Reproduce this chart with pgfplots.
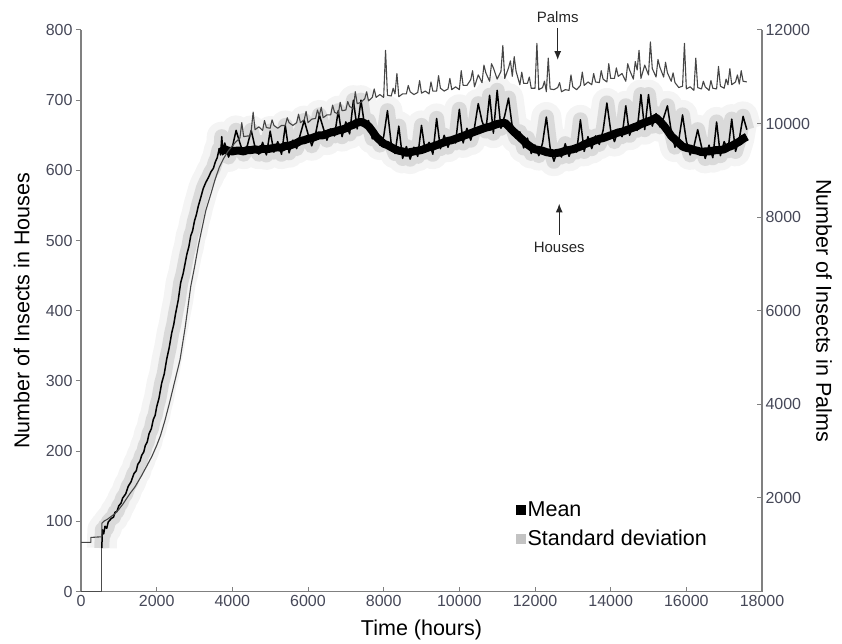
\documentclass[border=0pt]{standalone}
\usepackage{pgfplots}
\pgfplotsset{compat=1.18}
\usepackage{fontspec}
\setmainfont{Liberation Sans}
\usetikzlibrary{arrows.meta}
\definecolor{axgray}{RGB}{128,128,128}
\definecolor{ticktxt}{RGB}{70,72,88}
\definecolor{palmcol}{RGB}{70,70,70}
\definecolor{bandout}{RGB}{244,244,244}
\definecolor{bandin}{RGB}{218,218,218}
\definecolor{sdleg}{RGB}{195,195,195}
\pgfplotsset{
  base/.style={
    scale only axis, width=681pt, height=561.5pt,
    xmin=0, xmax=18000,
    axis line style={axgray, line width=1.3pt, -},
    tick style={axgray, line width=1pt},
    major tick length=5pt,
    tick label style={font=\fontsize{16}{18}\selectfont, text=ticktxt},
    /pgf/number format/assume math mode=true,
    /pgf/number format/1000 sep={},
    scaled ticks=false,
    clip=false,
  }
}
\begin{document}
\begin{tikzpicture}
\useasboundingbox (-81pt,-51.5pt) rectangle (761pt,591.5pt);
\begin{axis}[base,
  axis x line*=bottom, axis y line*=left,
  ymin=0, ymax=800,
  xtick={0,2000,...,18000}, ytick={0,100,...,800},
  xtick align=inside, ytick align=outside,
  xlabel={Time (hours)}, ylabel={Number of Insects in Houses},
  every axis x label/.style={at={(axis description cs:0.5,-0.069)}, anchor=center, font=\fontsize{21.5}{24}\selectfont},
  every axis y label/.style={at={(axis description cs:-0.087,0.5)}, rotate=90, anchor=center, font=\fontsize{21.5}{24}\selectfont},
  legend style={draw=none, fill=none, at={(0.635,0.168)}, anchor=north west,
    font=\fontsize{21.5}{24}\selectfont, row sep=8pt},
  legend cell align=left,
]
\addlegendimage{only marks, mark=square*, mark size=4.5pt, black}
\addlegendentry{Mean}
\addlegendimage{only marks, mark=square*, mark size=4.5pt, color=sdleg}
\addlegendentry{Standard deviation}

\pgfplotstableread{
x y
550 62
565 88
600 82
634 93
680 90
720 99
800 104
860 106
900 113
950 114
1000 122
1060 126
1100 133
1180 139
1250 150
1320 156
1400 168
1460 172
1500 181
1560 186
1604 194
1660 199
1700 208
1750 213
1800 225
1860 232
1911 245
1960 251
2000 263
2060 275
2133 297
2200 310
2265 331
2330 347
2400 369
2450 380
2500 396
2570 415
2635 440
2700 453
2800 481
2850 491
2902 507
2950 514
3000 528
3050 537
3100 549
3169 562
3230 574
3300 583
3370 590
3436 598
3500 603
3550 612
3600 618
3650 630
3690 622
3720 648
3750 627
3800 639
3900 619
4000 633
4100 657
4200 639
4300 623
4400 636
4500 657
4600 633
4700 623
4800 640
4900 622
5000 656
5100 626
5200 641
5300 623
5400 664
5500 625
5600 643
5700 631
5800 652
5900 671
6000 652
6100 635
6200 652
6300 679
6400 661
6500 643
6600 659
6700 649
6800 685
6900 648
7000 669
7100 652
7200 700
7300 659
7400 700
7500 662
7600 671
7700 645
7800 652
7900 636
8000 648
8100 685
8200 638
8300 624
8400 663
8500 617
8600 634
8700 616
8800 633
8900 620
9000 664
9100 626
9200 640
9300 623
9400 674
9500 631
9600 650
9700 633
9800 648
9900 639
10000 687
10100 639
10200 660
10300 643
10400 661
10500 695
10600 670
10700 656
10800 707
10900 653
11000 714
11100 660
11200 678
11300 703
11400 662
11500 646
11600 655
11700 632
11800 646
11900 624
12000 636
12100 621
12200 639
12300 676
12400 632
12500 613
12600 629
12700 619
12800 638
12900 620
13000 635
13100 626
13200 672
13300 627
13400 648
13500 631
13600 649
13700 637
13800 657
13900 696
14000 657
14100 641
14200 658
14300 648
14400 692
14500 650
14600 666
14700 657
14800 708
14900 658
15000 708
15100 663
15200 681
15300 662
15400 675
15500 692
15600 656
15700 633
15800 643
15900 679
16000 642
16100 622
16200 634
16300 658
16400 634
16500 617
16600 636
16700 618
16800 669
16900 621
17000 641
17100 628
17200 673
17300 627
17400 645
17500 677
17600 658
}\houses

\pgfplotstableread{
x y
3680 626
3800 630
3900 628
4000 627
4100 628
4200 628
4300 627
4400 629
4500 629
4600 630
4700 629
4800 631
4900 630
5000 631
5100 632
5200 633
5300 632
5400 635
5500 635
5600 637
5700 639
5800 642
5900 643
6000 645
6100 646
6200 648
6300 650
6400 650
6500 652
6600 654
6700 655
6800 657
6900 658
7000 660
7100 663
7200 665
7300 668
7400 669
7500 667
7600 663
7700 656
7800 648
7900 643
8000 638
8100 636
8200 633
8300 630
8400 628
8500 627
8600 625
8700 626
8800 627
8900 628
9000 629
9100 631
9200 633
9300 634
9400 636
9500 638
9600 640
9700 642
9800 643
9900 645
10000 647
10100 649
10200 651
10300 653
10400 655
10500 657
10600 659
10700 661
10800 662
10900 664
11000 666
11100 667
11200 668
11300 663
11400 657
11500 652
11600 647
11700 642
11800 637
11900 633
12000 630
12100 629
12200 628
12300 626
12400 625
12500 624
12600 625
12700 626
12800 628
12900 629
13000 630
13100 632
13200 634
13300 637
13400 639
13500 641
13600 643
13700 645
13800 646
13900 648
14000 650
14100 652
14200 654
14300 655
14400 657
14500 659
14600 661
14700 663
14800 666
14900 668
15000 670
15100 672
15200 675
15300 670
15400 664
15500 657
15600 649
15700 644
15800 639
15900 634
16000 632
16100 631
16200 629
16300 628
16400 626
16500 627
16600 627
16700 628
16800 629
16900 629
17000 630
17100 633
17200 635
17300 638
17400 641
17500 645
17600 648
}\housesband

\addplot[forget plot, bandout, line width=30pt, line join=round, line cap=butt] table {\houses};
\addplot[forget plot, bandin, line width=15pt, line join=round, line cap=butt] table {\houses};
\addplot[forget plot, black!70, line width=1.2pt] coordinates {(0,0) (550,0) (550,62)};
\addplot[forget plot, black, line width=8pt, line join=round, line cap=butt] table {\housesband};
\addplot[forget plot, black, line width=1.5pt, line join=round] table {\houses};

\draw[-{Latex[length=9pt,width=7pt]}, line width=1.4pt, black!85] (axis cs:12600,803) -- (axis cs:12600,757);
\node[font=\fontsize{15}{17}\selectfont, text=black!85] at (axis cs:12600,818) {Palms};
\draw[-{Latex[length=9pt,width=7pt]}, line width=1.4pt, black!85] (axis cs:12640,508) -- (axis cs:12640,553);
\node[font=\fontsize{15}{17}\selectfont, text=black!85] at (axis cs:12640,490) {Houses};
\end{axis}

\begin{axis}[base,
  axis x line=none, axis y line*=right,
  ymin=0, ymax=12000,
  ytick={2000,4000,...,12000},
  ytick align=inside,
  ylabel={Number of Insects in Palms},
  every axis y label/.style={at={(axis description cs:1.091,0.5)}, rotate=-90, anchor=center, font=\fontsize{21.5}{24}\selectfont},
]
\addplot[palmcol, line width=1.1pt, line join=round] coordinates {
(0,1050)(260,1050)(260,1155)(550,1170)(550,1455)(600,1500)(700,1545)(800,1605)(900,1665)(986,1740)
(1100,1860)(1200,1980)(1300,2100)(1427,2235)(1600,2475)(1750,2700)(1869,2880)(2000,3120)(2100,3330)
(2220,3660)(2350,4065)(2485,4515)(2617,4950)(2750,5625)(2902,6525)(3000,6930)(3100,7380)(3169,7650)
(3300,8145)(3436,8505)(3550,8820)(3660,9075)(3770,9255)(3882,9405)(4000,9525)(4100,9615)(4200,9690)
(4250,10020)(4300,9720)(4400,9735)(4470,9735)(4500,9855)(4550,10245)(4600,9870)(4700,9930)(4800,9855)
(4850,10065)(4900,9915)(5000,9900)(5050,10080)(5100,9960)(5200,9900)(5300,9960)(5400,9960)(5450,10125)
(5500,10020)(5600,9960)(5700,10020)(5750,10200)(5800,10020)(5900,10080)(5950,10260)(6000,10020)
(6100,10095)(6200,10110)(6250,10290)(6300,10170)(6350,10350)(6400,10125)(6500,10185)(6600,10185)
(6650,10395)(6700,10245)(6800,10200)(6850,10455)(6900,10275)(7000,10290)(7050,10470)(7100,10365)
(7200,10320)(7250,10680)(7300,10425)(7400,10455)(7500,10530)(7550,10680)(7600,10485)(7700,10560)
(7750,10740)(7800,10560)(7900,10620)(8000,10560)(8050,11565)(8100,10605)(8200,10590)(8250,10755)
(8300,10635)(8350,11070)(8400,10575)(8500,10635)(8600,10635)(8650,10815)(8700,10680)(8800,10620)
(8900,10665)(8950,10920)(9000,10650)(9100,10695)(9200,10635)(9250,10890)(9300,10695)(9400,10695)
(9450,11025)(9500,10755)(9600,10695)(9700,10740)(9750,10965)(9800,10725)(9900,10785)(10000,10725)
(10050,11130)(10100,10815)(10200,10815)(10300,10935)(10350,11130)(10400,10785)(10500,11040)(10600,10875)
(10650,11250)(10700,11085)(10800,10905)(10850,11280)(10900,11190)(11000,10950)(11100,11115)(11150,11670)
(11200,10965)(11300,11190)(11350,11340)(11400,11010)(11450,11430)(11500,11115)(11600,10830)(11650,11100)
(11700,10860)(11800,10860)(11850,10995)(11900,10755)(12000,10755)(12050,11715)(12100,10725)(12200,10770)
(12250,10905)(12300,10680)(12350,11400)(12400,10740)(12500,10725)(12600,10770)(12650,10875)(12700,10680)
(12800,10725)(12900,10710)(12950,11040)(13000,10785)(13100,10725)(13200,10815)(13250,11100)(13300,10815)
(13400,10890)(13500,10830)(13550,11070)(13600,10890)(13700,10875)(13750,11130)(13800,10950)(13900,10890)
(13950,11280)(14000,10965)(14100,10965)(14150,11190)(14200,11010)(14300,11070)(14400,10905)(14450,11280)
(14500,11145)(14600,10950)(14650,11325)(14700,11145)(14750,11565)(14800,10965)(14900,11250)(15000,11040)
(15050,11745)(15100,11175)(15200,10995)(15250,11370)(15300,11205)(15400,10995)(15450,11310)(15500,11085)
(15600,10905)(15650,11085)(15700,10875)(15800,10770)(15900,10800)(15950,11715)(16000,10740)(16100,10785)
(16200,10710)(16250,11400)(16300,10770)(16400,10740)(16450,10905)(16500,10785)(16600,10710)(16650,10920)
(16700,10755)(16800,10740)(16850,11220)(16900,10800)(17000,10755)(17050,10950)(17100,10830)(17150,11175)
(17200,10830)(17300,10890)(17350,11040)(17400,10845)(17450,11130)(17500,10905)(17600,10890)
};
\end{axis}
\end{tikzpicture}
\end{document}
